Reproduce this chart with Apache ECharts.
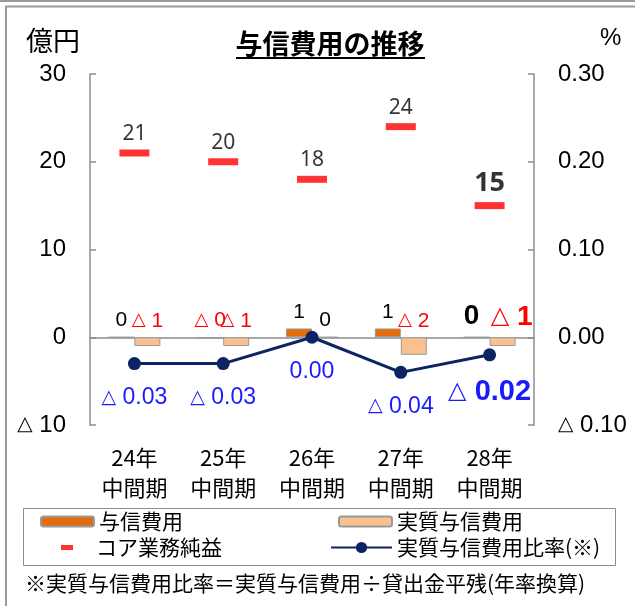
<!DOCTYPE html>
<html>
<head>
<meta charset="utf-8">
<script src="https://cdn.jsdelivr.net/npm/echarts@6/dist/echarts.min.js"></script>
<style>
  html, body { margin: 0; padding: 0; background: #fff; }
  #chart { width: 635px; height: 606px; }
</style>
</head>
<body>
<div id="chart"></div>
<script>
// Periods (interim results)
const categories = ['24年\n中間期', '25年\n中間期', '26年\n中間期', '27年\n中間期', '28年\n中間期'];
// 与信費用 (億円)
const creditCost = [0, -0.1, 1, 1, 0];
// 実質与信費用 (億円)
const realCreditCost = [-1, -1, 0, -2, -1];
// コア業務純益 (億円)
const coreProfit = [21, 20, 18, 24, 15];
// 実質与信費用比率 (%)
const realCostRatio = [-0.03, -0.03, 0.00, -0.04, -0.02];
// Axis ranges
const leftAxis = { min: -10, max: 30, interval: 10 };
const rightAxis = { min: -0.1, max: 0.3, interval: 0.1 };

const latest = categories.length - 1;   // latest period is drawn in bold
const NUM_FONT = "'Liberation Sans', 'Noto Sans CJK JP', sans-serif";
const TRI_FONT = "'DejaVu Sans', sans-serif";
const JP_FONT = "'Noto Sans CJK JP', sans-serif";
const AXIS_GREY = '#8c8c8c';

// Negative values are written with a leading triangle: "△ 1"
function tri(v, digits, key) {
  const s = Math.abs(v).toFixed(digits);
  return v < 0 ? '{' + key + 'T|△}{' + key + '| ' + s + '}' : '{' + key + '|' + s + '}';
}

// rich style pair: number + smaller triangle
function richPair(key, color, size, bold) {
  const o = {};
  o[key] = { color: color, fontSize: size, fontWeight: bold ? 'bold' : 'normal', fontFamily: NUM_FONT };
  o[key + 'T'] = { color: color, fontSize: Math.round(size * 0.84), fontWeight: bold ? 'bold' : 'normal', fontFamily: TRI_FONT };
  return o;
}

function barLabel(p) {
  const v = p.value;
  const key = (v < 0 ? 'r' : 'k') + (p.dataIndex === latest ? 'b' : '');
  return tri(v, 0, key);
}

// the two bar labels of the bold period are pushed slightly apart
function withLabelShift(values, dx) {
  return values.map((v, i) => i === latest ? { value: v, label: { offset: [dx, 0] } } : v);
}

const barRich = Object.assign({},
  richPair('k', '#000', 21, false),
  richPair('r', '#ff0000', 21, false),
  richPair('kb', '#000', 28, true),
  richPair('rb', '#ff0000', 28, true)
);

const axisRich = richPair('a', '#000', 24, false);
const ratioRich = Object.assign({},
  richPair('n', '#1a1aff', 23, false),
  richPair('b', '#1a1aff', 29, true)
);

const chart = echarts.init(document.getElementById('chart'), null, { renderer: 'canvas' });

const legendText = { fontSize: 21, color: '#000', fontFamily: JP_FONT };

chart.setOption({
  animation: false,
  backgroundColor: '#fff',
  title: {
    text: '与信費用の推移',
    left: 330,
    top: 30,
    padding: 0,
    textAlign: 'center',
    textStyle: { fontSize: 27, fontWeight: 'bold', color: '#000', fontFamily: JP_FONT }
  },
  grid: { left: 90, right: 101, top: 74, bottom: 181 },
  xAxis: [
    {
      type: 'category',
      data: categories,
      axisLine: { onZero: true, lineStyle: { color: AXIS_GREY, width: 1.5 } },
      axisTick: { inside: true, length: 6, lineStyle: { color: AXIS_GREY, width: 1.5 } },
      axisLabel: { show: false },
      splitLine: { show: false }
    },
    {
      type: 'category',
      data: categories,
      position: 'bottom',
      axisLine: { show: false, onZero: false },
      axisTick: { show: false },
      axisLabel: { margin: 18, fontSize: 22, lineHeight: 30, color: '#000', fontFamily: JP_FONT },
      splitLine: { show: false }
    }
  ],
  yAxis: [
    {
      type: 'value',
      min: leftAxis.min, max: leftAxis.max, interval: leftAxis.interval,
      name: '億円',
      nameLocation: 'end',
      nameGap: 20,
      nameTextStyle: { fontSize: 27, color: '#000', fontFamily: JP_FONT, align: 'right', padding: [0, 10, 0, 0] },
      axisLine: { show: true, lineStyle: { color: AXIS_GREY, width: 1.5 } },
      axisTick: { show: true, inside: true, length: 6, lineStyle: { color: AXIS_GREY, width: 1.5 } },
      axisLabel: { margin: 24, formatter: v => tri(v, 0, 'a'), rich: axisRich },
      splitLine: { show: false }
    },
    {
      type: 'value',
      min: rightAxis.min, max: rightAxis.max, interval: rightAxis.interval,
      name: '%',
      nameLocation: 'end',
      nameGap: 24,
      nameTextStyle: { fontSize: 24, color: '#000', fontFamily: NUM_FONT, align: 'left', padding: [0, 0, 0, 66] },
      axisLine: { show: true, lineStyle: { color: AXIS_GREY, width: 1.5 } },
      axisTick: { show: true, inside: true, length: 6, lineStyle: { color: AXIS_GREY, width: 1.5 } },
      axisLabel: { margin: 24, formatter: v => tri(v, 2, 'a'), rich: axisRich },
      splitLine: { show: false }
    }
  ],
  legend: [
    {
      data: ['与信費用'], left: 40, top: 511, padding: 0,
      itemWidth: 53, itemHeight: 10, textStyle: legendText
    },
    {
      data: ['コア業務純益'], left: 61, top: 537, padding: 0,
      itemWidth: 12, itemHeight: 5, icon: 'rect',
      textStyle: Object.assign({}, legendText, { padding: [0, 0, 0, 18] })
    },
    {
      data: ['実質与信費用'], left: 338, top: 511, padding: 0,
      itemWidth: 53, itemHeight: 10, textStyle: legendText
    },
    {
      data: ['実質与信費用比率(※)'], left: 330, top: 537, padding: 0,
      itemWidth: 61, itemHeight: 14, textStyle: legendText
    }
  ],
  graphic: [
    // outer frame
    { type: 'line', shape: { x1: 0, y1: 1, x2: 635, y2: 1 }, style: { stroke: '#9a9a9a', lineWidth: 2 }, silent: true },
    { type: 'polyline', shape: { points: [[6, 606], [6, 6.5], [635, 6.5]] }, style: { stroke: '#9a9a9a', lineWidth: 2, fill: null }, silent: true },
    // title underline
    { type: 'line', shape: { x1: 236, y1: 58, x2: 425, y2: 58 }, style: { stroke: '#000', lineWidth: 2 }, silent: true },
    // legend frame
    { type: 'rect', shape: { x: 23.5, y: 508.5, width: 592, height: 57 }, style: { stroke: '#8c8c8c', lineWidth: 1, fill: null }, silent: true },
    // footnote
    {
      type: 'text', left: 25, top: 573, silent: true,
      style: { text: '※実質与信費用比率＝実質与信費用÷貸出金平残(年率換算)', fontSize: 21, fill: '#000', fontFamily: JP_FONT }
    }
  ],
  series: [
    {
      name: '与信費用',
      type: 'bar',
      data: withLabelShift(creditCost, -5),
      barWidth: 26,
      barGap: '0%',
      itemStyle: { color: '#e46c0a', borderColor: '#9a9a9a', borderWidth: 1 },
      label: { show: true, position: 'top', distance: 6, formatter: barLabel, rich: barRich }
    },
    {
      name: '実質与信費用',
      type: 'bar',
      data: withLabelShift(realCreditCost, 9),
      barWidth: 26,
      barGap: '0%',
      itemStyle: { color: '#fac090', borderColor: '#9a9a9a', borderWidth: 1 },
      label: { show: true, position: 'top', distance: 6, formatter: barLabel, rich: barRich }
    },
    {
      name: 'コア業務純益',
      type: 'scatter',
      data: coreProfit,
      symbol: 'rect',
      symbolSize: [30, 7],
      itemStyle: { color: '#ff0000' },
      label: {
        show: true, position: 'top', distance: 5,
        formatter: p => '{' + (p.dataIndex === latest ? 'b' : 'n') + '|' + p.value + '}',
        rich: {
          n: { color: '#000', fontSize: 21, fontFamily: "'Noto Sans', sans-serif" },
          b: { color: '#000', fontSize: 27, fontWeight: 'bold', fontFamily: "'Noto Sans', sans-serif" }
        }
      },
      z: 3
    },
    {
      name: '実質与信費用比率(※)',
      type: 'line',
      yAxisIndex: 1,
      data: realCostRatio,
      symbol: 'circle',
      symbolSize: 13,
      lineStyle: { color: '#0c2461', width: 3 },
      itemStyle: { color: '#0c2461' },
      label: {
        show: true, position: 'bottom', distance: 16,
        formatter: p => tri(p.value, 2, p.dataIndex === latest ? 'b' : 'n'),
        rich: ratioRich
      },
      z: 4
    }
  ]
});
</script>
</body>
</html>
